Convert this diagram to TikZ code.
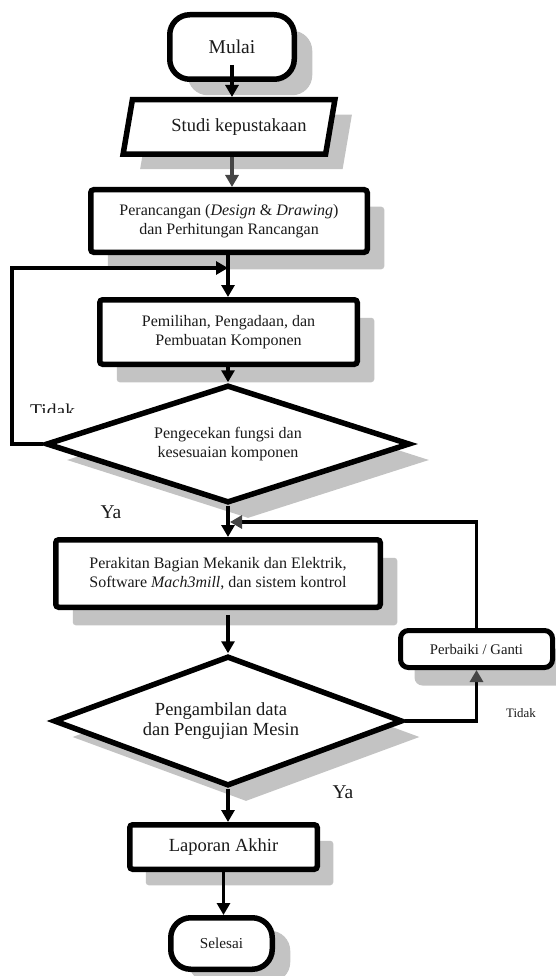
\documentclass[tikz,border=0pt]{standalone}
\usepackage{fontspec}
\setmainfont{Liberation Serif}
\usetikzlibrary{shapes.geometric,shadows,arrows.meta,calc}
\definecolor{shadowgray}{HTML}{C3C3C3}
\definecolor{arrowgray}{HTML}{454545}
\definecolor{txt}{HTML}{1A1A1A}
\begin{document}
\begin{tikzpicture}[x=1pt,y=-1pt,
  box/.style={draw=black, fill=white, line width=5.5pt, align=center, inner sep=0pt, text=txt},
  shadowed/.style 2 args={drop shadow={shadow xshift=#1pt, shadow yshift=-#2pt, opacity=1, fill=shadowgray}},
  arr/.style={line width=3.5pt, -{Triangle[width=13pt,length=12pt]}},
  garr/.style={line width=3.5pt, -{Triangle[width=13pt,length=12pt,color=arrowgray]}},
  lbl/.style={inner sep=0pt, text=txt, font=\fontsize{19.5}{23}\selectfont},
  lblsmall/.style={inner sep=0pt, text=txt, font=\fontsize{12.9}{15}\selectfont}]
\useasboundingbox (0,0) rectangle (556,976);

% nodes
\node[box, rounded corners=20pt, minimum width=124.5pt, minimum height=64.5pt,
      font=\fontsize{19.5}{23}\selectfont, shadowed={18}{16}] (mulai) at (232,47) {Mulai};

\node[box, trapezium, trapezium left angle=66, trapezium right angle=114, trapezium stretches=true,
      minimum width=212pt, minimum height=54.5pt,
      font=\fontsize{18.5}{22}\selectfont, shadowed={17}{15}] (studi) at (229,127) {\hspace*{20pt}Studi kepustakaan};

\node[box, rounded corners=3pt, minimum width=276.5pt, minimum height=62.5pt,
      font=\fontsize{16}{18.5}\selectfont, shadowed={17}{17}] (peranc) at (229,221)
      {Perancangan (\textit{Design} \& \textit{Drawing})\\dan Perhitungan Rancangan};

\node[box, rounded corners=3pt, minimum width=257.5pt, minimum height=64.5pt,
      font=\fontsize{16}{18.5}\selectfont, shadowed={17}{18}] (pemil) at (228.5,332)
      {Pemilihan, Pengadaan, dan\\Pembuatan Komponen};

\node[box, diamond, aspect=2.95, minimum width=364pt, minimum height=118pt,
      font=\fontsize{16}{19.5}\selectfont, shadowed={20}{16}] (d1) at (228,444)
      {Pengecekan fungsi dan\\kesesuaian komponen};

\node[box, rounded corners=3pt, minimum width=324.5pt, minimum height=67.5pt,
      font=\fontsize{16}{19}\selectfont, shadowed={17}{18}] (perak) at (218,573.5)
      {Perakitan Bagian Mekanik dan Elektrik,\\Software \textit{Mach3mill}, dan sistem kontrol};

\node[box, diamond, aspect=2.6, minimum width=349pt, minimum height=130pt,
      font=\fontsize{18.5}{20.5}\selectfont, shadowed={18}{16}] (d2) at (228,721)
      {\hspace*{-14pt}Pengambilan data\\\hspace*{-14pt}dan Pengujian Mesin};

\node[box, line width=5pt, rounded corners=8pt, minimum width=152pt, minimum height=37pt,
      font=\fontsize{14.7}{17}\selectfont, shadowed={14}{18}] (perb) at (476.5,649) {Perbaiki / Ganti};

\node[box, rounded corners=3pt, minimum width=187.5pt, minimum height=44.5pt,
      font=\fontsize{18.5}{22}\selectfont, shadowed={16}{16}] (lap) at (223.5,847) {Laporan Akhir};

\node[box, rounded corners=20pt, minimum width=101.5pt, minimum height=51.5pt,
      font=\fontsize{15.2}{18}\selectfont, shadowed={18}{13}] (sel) at (221.5,943.5) {Selesai};

% helper coordinates
\coordinate (loopcorner) at (12,268);
\coordinate (loopin) at (228,268);
\coordinate (retin) at (230,522);

% connectors
\draw[arr] ([yshift=17pt]mulai.south) -- (mulai.south |- studi.north);
\draw[arr, draw=arrowgray] (studi.south -| mulai.south) -- (mulai.south |- peranc.north);
\draw[arr] (peranc.south -| loopin) -- (loopin |- pemil.north);
\draw[arr] (d1.west) -| (loopcorner) -- (loopin);
\draw[arr] (pemil.south -| loopin) -- (loopin |- d1.north);
\draw[arr] (d1.south) -- (d1.south |- perak.north);
\draw[garr] (perb.north) |- (retin);
\draw[arr] ([yshift=-5pt]perak.south -| d2.north) -- (d2.north);
\draw[garr] (d2.east) -| (perb.south);
\draw[arr] (d2.south) -- (d2.south |- lap.north);
\draw[arr] (lap.south) -- (lap.south |- sel.north);

% labels
\begin{scope}
  \clip (20,398) rectangle (100,412.5);
  \node[lbl, anchor=base west] (tidak1) at (30,417) {Tidak};
\end{scope}
\node[lbl] (ya1) at (111,512) {Ya};
\node[lbl] (ya2) at (343,792) {Ya};
\node[lblsmall] (tidak2) at (521,713) {Tidak};
\end{tikzpicture}
\end{document}
